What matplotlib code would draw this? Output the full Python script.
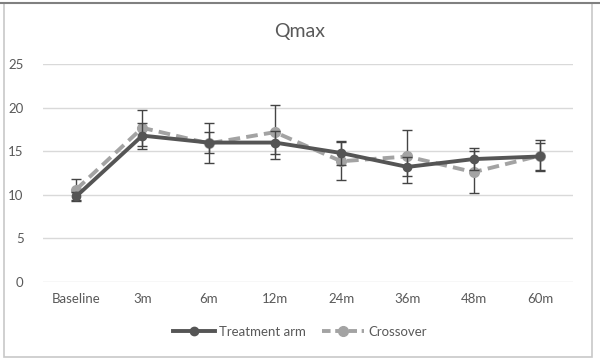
import matplotlib.pyplot as plt
from matplotlib.patches import Rectangle
from matplotlib.lines import Line2D

plt.rcParams['font.family'] = ['Lato', 'DejaVu Sans']

labels = ['Baseline', '3m', '6m', '12m', '24m', '36m', '48m', '60m']
treatment = [9.8, 16.8, 16.0, 16.0, 14.8, 13.2, 14.1, 14.4]
treatment_err = [0.5, 1.5, 1.2, 1.3, 1.35, 1.1, 1.3, 1.5]
crossover = [10.6, 17.7, 15.9, 17.2, 13.85, 14.4, 12.6, 14.5]
crossover_err = [1.2, 2.1, 2.3, 3.1, 2.2, 3.1, 2.4, 1.8]

dark = '#555555'
light = '#a3a3a3'
dash = (0, (3, 1.6))

fig = plt.figure(figsize=(6, 3.61), dpi=100)
ax = fig.add_axes([43 / 600, 1 - 281.7 / 361, 530 / 600, 217.4 / 361])

# chart frame
fig.patches.append(Rectangle((4 / 600, 1 - 357 / 361), 588 / 600, 354 / 361,
                             transform=fig.transFigure, fill=False,
                             edgecolor='#c8c8c8', linewidth=1.2))
fig.patches.append(Rectangle((0, 1 - 3 / 361), 1, 0, transform=fig.transFigure,
                             fill=False, edgecolor='#808080', linewidth=1.5))

x = list(range(len(labels)))
ax.errorbar(x, treatment, yerr=treatment_err, color=dark, ecolor='#444444',
            linewidth=2.8, marker='o', markersize=6, elinewidth=1, capsize=3.5,
            capthick=1, zorder=3)
ax.errorbar(x, crossover, yerr=crossover_err, color=light, ecolor='#444444',
            linewidth=2.8, linestyle=dash, marker='o', markersize=7,
            elinewidth=1, capsize=3.5, capthick=1, zorder=2)

ax.set_xlim(-0.5, len(labels) - 0.5)
ax.set_ylim(0, 25)
ax.set_yticks([0, 5, 10, 15, 20, 25])
ax.set_xticks(x)
ax.set_xticklabels(labels)
ax.grid(axis='y', color='#d9d9d9', linewidth=1)
ax.set_axisbelow(True)
for s in ax.spines.values():
    s.set_visible(False)
ax.tick_params(length=0, labelsize=9.5, colors='#595959')
ax.tick_params(axis='y', pad=14)
ax.tick_params(axis='x', pad=8)

fig.text(0.5, 1 - 32 / 361, 'Qmax', ha='center', va='center', fontsize=14,
         color='#595959')
handles = [Line2D([], [], color=dark, linewidth=2.8, marker='o', markersize=6),
           Line2D([], [], color=light, linewidth=2.8, linestyle=(0, (2.2, 1.2)),
                  marker='o', markersize=7)]
fig.legend(handles, ['Treatment arm', 'Crossover'], loc='center',
           bbox_to_anchor=(0.5, 1 - 332 / 361), ncol=2, frameon=False,
           fontsize=9.5, labelcolor='#595959', handlelength=3.2,
           columnspacing=1.2, handletextpad=0.3)

plt.savefig('out.png', dpi=100)
